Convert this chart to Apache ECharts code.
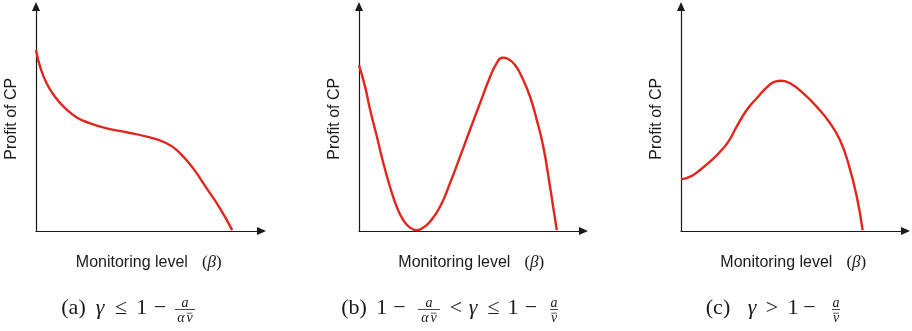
<!DOCTYPE html>
<html>
<head>
<meta charset="utf-8">
<script src="https://cdn.jsdelivr.net/npm/echarts@6/dist/echarts.min.js"></script>
<style>
  html, body { margin: 0; padding: 0; background: #fff; }
  #main { width: 912px; height: 331px; }
</style>
</head>
<body>
<div id="main"></div>
<script>
// profit curves (x: monitoring level 0-100, y: profit 0-100)
const xA = [0, 1.8, 4.7, 8.4, 12.9, 18.1, 23.9, 31.4, 40.2, 49.1, 57.9, 63.9, 69.7, 75.7, 81.6, 87.0];
const yA = [80.6, 73.2, 65.8, 59.8, 54.7, 50.6, 48.0, 45.7, 44.0, 42.0, 39.1, 34.6, 27.9, 19.0, 10.1, 0.4];

const xB = [0, 2.7, 4.9, 7.9, 10.8, 13.8, 16.8, 19.7, 22.7, 25.7, 28.6, 31.6, 36.1, 40.5, 45.0, 49.4,
            53.9, 58.4, 61.3, 63.8, 66.5, 69.5, 72.5, 76.2, 79.2, 82.1, 85.1, 88.1];
const yB = [73.9, 64.3, 54.2, 42.3, 30.4, 19.7, 10.8, 4.9, 1.5, 0.4, 1.5, 4.1, 10.8, 21.2, 33.1, 45.0,
            56.9, 68.7, 74.7, 77.2, 76.6, 73.9, 68.7, 59.8, 49.4, 37.5, 19.7, 0.4];

const xC = [0, 4.1, 8.5, 12.9, 17.4, 21.1, 24.8, 29.3, 33.7, 38.2, 41.9, 44.8, 48.6, 54.5, 60.4, 66.4,
            70.8, 74.5, 78.3, 80.9];
const yC = [23.0, 24.2, 27.2, 30.9, 35.3, 39.8, 46.5, 53.9, 59.1, 64.0, 66.5, 66.9, 65.8, 61.3, 55.4, 48.0,
            40.5, 30.2, 15.3, 0.4];

const xName = 'Monitoring level';
const yName = 'Profit of CP';

var myChart = echarts.init(document.getElementById('main'));

const red = '#e3261d';
const ink = '#1a1a1a';
const sans = "'Liberation Sans', Arial, sans-serif";
const serif = "'Liberation Serif', 'Times New Roman', serif";

// grids for the three panels
const grids = [
  { left: 36, top: 6.5, width: 225.5, height: 224.5 },
  { left: 359, top: 6.5, width: 224.5, height: 224.5 },
  { left: 681, top: 6.5, width: 224.5, height: 224.5 }
];

function pairs(xs, ys) {
  return xs.map((x, i) => [x, ys[i]]);
}

const axisLine = {
  show: true,
  symbol: ['none', 'triangle'],
  symbolSize: [8, 9],
  lineStyle: { color: ink, width: 1.2 }
};

let xAxis = [], yAxis = [];
grids.forEach((g, i) => {
  xAxis.push({
    type: 'value', gridIndex: i, min: 0, max: 100,
    axisLine: axisLine, axisTick: { show: false }, axisLabel: { show: false }, splitLine: { show: false },
    name: '{t|' + xName + '}{p|(}{b|β}{p|)}',
    nameLocation: 'middle', nameGap: 23,
    nameTextStyle: {
      rich: {
        t: { fontFamily: sans, fontSize: 16, color: ink, padding: [0, 14, 0, 0] },
        p: { fontFamily: serif, fontSize: 17, color: ink },
        b: { fontFamily: serif, fontSize: 17, fontStyle: 'italic', color: ink }
      }
    }
  });
  yAxis.push({
    type: 'value', gridIndex: i, min: 0, max: 100,
    axisLine: axisLine, axisTick: { show: false }, axisLabel: { show: false }, splitLine: { show: false },
    name: yName, nameLocation: 'middle', nameGap: 16,
    nameTextStyle: { fontFamily: sans, fontSize: 16, color: ink }
  });
});

const series = [pairs(xA, yA), pairs(xB, yB), pairs(xC, yC)].map((d, i) => ({
  type: 'line', xAxisIndex: i, yAxisIndex: i, data: d,
  smooth: 0.5, showSymbol: false, symbol: 'none',
  lineStyle: { color: red, width: 2.4 }
}));

// caption pieces
const capY = 308;
function tok(text, x, italic, size, y) {
  return {
    type: 'text', x: x, y: y || capY,
    style: {
      text: text, fill: ink, align: 'center', verticalAlign: 'middle',
      font: (italic ? 'italic ' : '') + (size || 22) + 'px ' + serif
    }
  };
}
function bar(x1, x2, y, lw) {
  return { type: 'line', shape: { x1: x1, y1: y, x2: x2, y2: y }, style: { stroke: ink, lineWidth: lw || 0.8 } };
}
// a over (alpha v-bar) or a over v-bar
function frac(x, w, withAlpha) {
  const out = [tok('a', x, true, 14, 303.5), bar(x - w / 2, x + w / 2, 309.5)];
  if (withAlpha) {
    out.push(tok('α', x - 4, true, 14, 318.5), tok('v', x + 4.5, true, 14, 318.5), bar(x + 1.8, x + 7.5, 313.2, 0.7));
  } else {
    out.push(tok('v', x, true, 14, 318.5), bar(x - 2.8, x + 3, 313.2, 0.7));
  }
  return out;
}

const graphic = [
  tok('(a)', 73.5), tok('γ', 100, true), tok('≤', 121), tok('1', 141.7), tok('−', 160),
  ...frac(185, 20, true),
  tok('(b)', 354), tok('1', 381.7), tok('−', 399.5),
  ...frac(429, 22, true),
  tok('<', 456), tok('γ', 473, true), tok('≤', 493.5), tok('1', 513), tok('−', 531),
  ...frac(554, 8, false),
  tok('(c)', 718), tok('γ', 752, true), tok('>', 772), tok('1', 793), tok('−', 809.5),
  ...frac(836, 8, false)
];

var option = {
  animation: false,
  backgroundColor: '#fff',
  grid: grids,
  xAxis: xAxis,
  yAxis: yAxis,
  series: series,
  graphic: graphic
};

myChart.setOption(option);
</script>
</body>
</html>
